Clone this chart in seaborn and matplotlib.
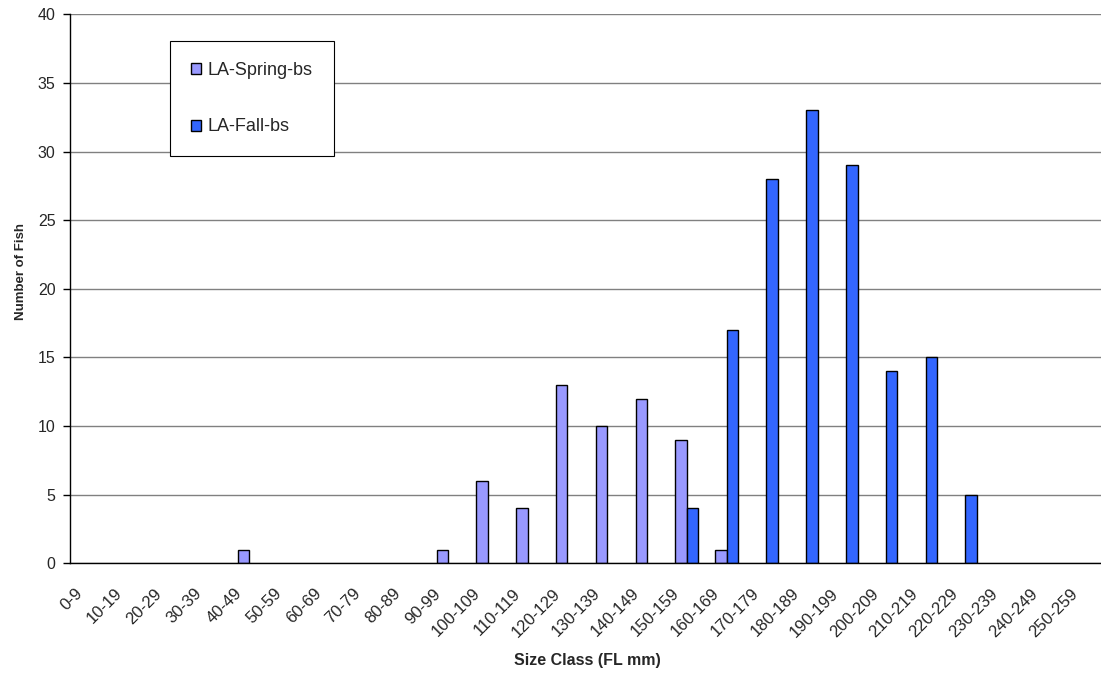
import matplotlib
matplotlib.use("Agg")
import matplotlib.pyplot as plt
from matplotlib.patches import Patch
from matplotlib.ticker import FixedLocator
from matplotlib.transforms import ScaledTranslation
import seaborn as sns
import pandas as pd

categories = ["0-9", "10-19", "20-29", "30-39", "40-49", "50-59", "60-69", "70-79",
              "80-89", "90-99", "100-109", "110-119", "120-129", "130-139", "140-149",
              "150-159", "160-169", "170-179", "180-189", "190-199", "200-209",
              "210-219", "220-229", "230-239", "240-249", "250-259"]
spring = [0, 0, 0, 0, 1, 0, 0, 0, 0, 1, 6, 4, 13, 10, 12, 9, 1, 0, 0, 0, 0, 0, 0, 0, 0, 0]
fall = [0, 0, 0, 0, 0, 0, 0, 0, 0, 0, 0, 0, 0, 0, 0, 4, 17, 28, 33, 29, 14, 15, 5, 0, 0, 0]
series_names = ["LA-Spring-bs", "LA-Fall-bs"]
colors = ["#9999FF", "#3366FF"]
y_ticks = [0, 5, 10, 15, 20, 25, 30, 35, 40]

rows = []
for c, s, f in zip(categories, spring, fall):
    rows.append({"size": c, "count": s, "series": series_names[0]})
    rows.append({"size": c, "count": f, "series": series_names[1]})
df = pd.DataFrame(rows)
df = df[df["count"] > 0]

sns.set_style("white")
plt.rcParams["font.family"] = ["Liberation Sans", "DejaVu Sans"]

W, H = 1101, 677
fig = plt.figure(figsize=(W / 100, H / 100), dpi=100)
left, right, top, bottom = 70, 1104.8, 14.3, 563.3
ax = fig.add_axes([left / W, 1 - bottom / H, (right - left) / W, (bottom - top) / H])

sns.barplot(data=df, x="size", y="count", hue="series", order=categories,
            hue_order=series_names, palette=colors, saturation=1, width=0.58,
            edgecolor="black", linewidth=1.0, ax=ax, legend=False)

ax.set_xlim(-0.5, len(categories) - 0.5)
ax.set_ylim(0, 40)
ax.set_yticks(y_ticks)
ax.yaxis.grid(True, color="#808080", linewidth=1.0)
ax.set_axisbelow(True)
for sp in ["top", "right"]:
    ax.spines[sp].set_visible(False)
for sp in ["left", "bottom"]:
    ax.spines[sp].set_color("black")
    ax.spines[sp].set_linewidth(1.0)

# x ticks: labels at category centers, tick marks at boundaries
ax.set_xticks(range(len(categories)))
ax.set_xticklabels(categories, rotation=45, ha="right", va="center",
                   rotation_mode="anchor", fontsize=12)
ax.tick_params(axis="x", which="major", length=0, pad=20)
offset = ScaledTranslation(-10 / 100, 0, fig.dpi_scale_trans)
for lab in ax.get_xticklabels():
    lab.set_transform(lab.get_transform() + offset)
ax.xaxis.set_minor_locator(FixedLocator([i - 0.5 for i in range(len(categories) + 1)]))
ax.tick_params(axis="x", which="minor", length=5, width=1, color="black", direction="out")
ax.tick_params(axis="y", which="major", length=5, width=1, color="black", direction="out",
               labelsize=11.5, pad=5.5, left=True)

ax.set_xlabel("Size Class (FL mm)", fontsize=11.5, fontweight="bold")
ax.xaxis.set_label_coords(0.5, -0.1634)
ax.set_ylabel("Number of Fish", fontsize=9.5, fontweight="bold")
ax.yaxis.set_label_coords(-0.042, 0.532)

handles = [Patch(facecolor=colors[0], edgecolor="black", linewidth=1.0),
           Patch(facecolor=colors[1], edgecolor="black", linewidth=1.0)]
leg = ax.legend(handles, series_names, loc="upper left",
                bbox_to_anchor=(170 / W, 1 - 41 / H), bbox_transform=fig.transFigure,
                borderaxespad=0, fontsize=13, frameon=True, fancybox=False,
                edgecolor="black", framealpha=1, handlelength=0.55, handleheight=0.55,
                handletextpad=0.4, labelspacing=2.2, borderpad=1.15)
leg.get_frame().set_linewidth(0.8)

fig.savefig("out.png", dpi=100)
